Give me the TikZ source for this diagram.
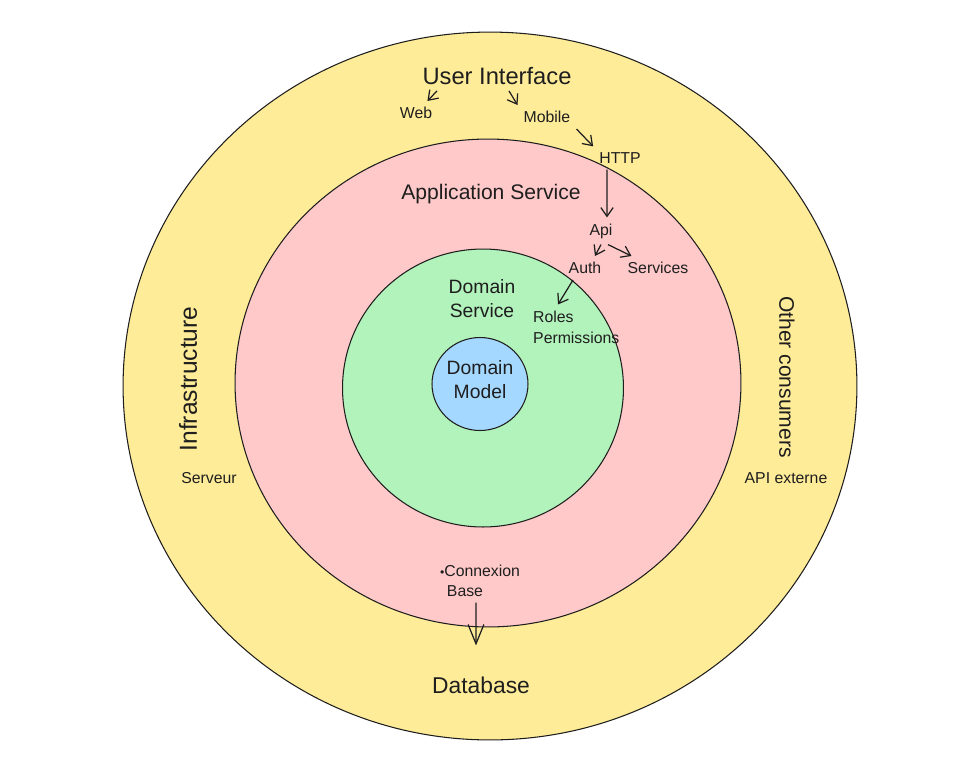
\documentclass[tikz,border=0pt]{standalone}
\usepackage{fontspec}
\setmainfont{Liberation Sans}
\usetikzlibrary{arrows.meta}
\definecolor{ink}{HTML}{1E1E1E}
\definecolor{infrafill}{HTML}{FFEC99}
\definecolor{appfill}{HTML}{FFC9C9}
\definecolor{domfill}{HTML}{B2F2BB}
\definecolor{modelfill}{HTML}{A5D8FF}
\begin{document}
\begin{tikzpicture}[x=0.02cm, y=-0.02cm,
    layer/.style={draw=ink, line width=0.6pt},
    big/.style={font=\fontsize{12}{14}\selectfont, text=ink},
    mid/.style={font=\fontsize{11}{13.6}\selectfont, text=ink, align=center},
    small/.style={font=\fontsize{9}{12}\selectfont, text=ink},
    arr/.style={draw=ink, line width=0.7pt, -{Straight Barb[length=5pt,width=7pt]}}]
    \useasboundingbox (0,0) rectangle (958,762);
    % layers
    \path[layer, fill=infrafill] (490,386) ellipse [x radius=7.34cm, y radius=7.08cm];
    \path[layer, fill=appfill] (488,383) ellipse [x radius=5.06cm, y radius=4.88cm];
    \path[layer, fill=domfill] (483,388) ellipse [x radius=2.81cm, y radius=2.78cm];
    \path[layer, fill=modelfill] (480,384) ellipse [x radius=0.96cm, y radius=0.93cm];
    % texts
    \node[big, font=\fontsize{13.5}{16}\selectfont] (ui) at (497,76) {User Interface};
    \node[small] (web) at (416,113) {Web};
    \node[small] (mobile) at (547,117) {Mobile};
    \node[small] (http) at (620,158) {HTTP};
    \node[big] (app) at (491,194) {Application Service};
    \node[small] (api) at (601,231) {Api};
    \node[small] (auth) at (585,268) {Auth};
    \node[small] (services) at (658,268) {Services};
    \node[mid] (domserv) at (482,299) {Domain\\Service};
    \node[small, align=left, anchor=west] (roles) at (527,327) {Roles\\Permissions};
    \node[mid] (model) at (480,380) {Domain\\Model};
    \node[big, font=\fontsize{14}{16}\selectfont, rotate=90] (infra) at (188,379) {Infrastructure};
    \node[small] (serveur) at (209,478) {Serveur};
    \node[big, rotate=-90] (other) at (787,377) {Other consumers};
    \node[small] (apiext) at (786,478) {API externe};
    \node[small] (connexion) at (480,571) {{\scriptsize\textbullet}Connexion};
    \node[small] (base) at (465,591) {Base};
    \node[big, font=\fontsize{13}{15}\selectfont] (db) at (481,685) {Database};
    % arrows
    \draw[arr] ([xshift=-1.2cm]ui.south) -- (web);
    \draw[arr] ([xshift=0.24cm]ui.south) -- (mobile.north west);
    \draw[arr] (mobile.south east) -- (http.north west);
    \draw[arr] ([xshift=-0.26cm]http.south) -- ([xshift=0.12cm]api.north);
    \draw[arr] (api.south) -- ([xshift=0.2cm]auth.north);
    \draw[arr] ([xshift=0.14cm]api.south) -- ([xshift=0.2cm]services.north west);
    \draw[arr] ([xshift=-0.24cm]auth.south) -- ([xshift=0.62cm]roles.north west);
    \draw[draw=ink, line width=0.7pt, -{Straight Barb[length=11pt,width=9pt]}, shorten >=0.5cm]
      ([xshift=0.22cm]base.south) -- ([xshift=-0.1cm]db.north);
\end{tikzpicture}
\end{document}
